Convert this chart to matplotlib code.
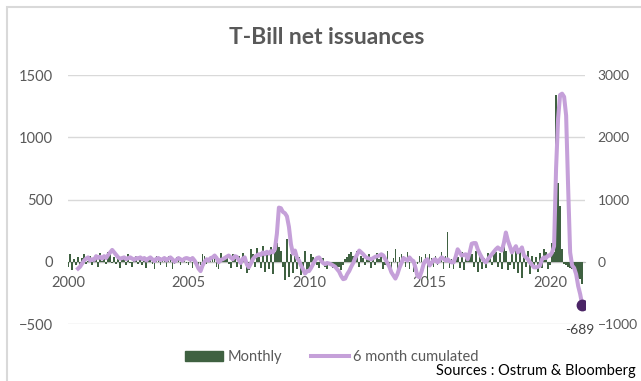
import matplotlib
matplotlib.use("Agg")
import matplotlib.pyplot as plt
import matplotlib.patches as mpatches
from matplotlib.lines import Line2D
import numpy as np

# Monthly net issuance (left axis), Jan 2000 - May 2021
monthly_by_year = [
    [-40, 60, -70, 20, -30, 40, -50, 30, 60, -20, 10, 50],      # 2000
    [-30, 40, 20, -40, 70, 10, 50, -20, 80, 60, -10, 40],       # 2001
    [-20, 30, -50, 40, 20, -30, 60, -10, -40, 30, 50, -20],     # 2002
    [40, -30, 20, -50, 30, 40, -20, -60, 50, 20, -30, 30],      # 2003
    [20, -40, 50, 30, -60, -20, 40, 30, -30, 20, 40, -10],      # 2004
    [-30, 40, -50, -20, -40, -70, -30, 60, 50, -20, 30, 40],    # 2005
    [30, 50, -40, -60, 70, 20, 40, 30, -20, -50, 60, 50],       # 2006
    [-40, 50, -60, 70, 30, -90, -70, 100, 60, -40, 110, 40],    # 2007
    [-50, 130, -80, 90, -60, 120, -100, 80, 150, 120, 90, -40], # 2008
    [-150, 180, -120, 60, -90, 50, -60, 40, -110, -80, 90, -70],# 2009
    [-60, 60, 40, 20, -30, -50, 10, 30, -40, -60, -20, -30],    # 2010
    [-50, -30, -60, -40, -70, -30, 20, 40, 60, 80, 50, 30],     # 2011
    [90, -40, 50, 30, -30, 20, 60, -50, 40, -30, 70, 20],       # 2012
    [40, -60, -30, 90, -80, -70, 30, 100, -120, 40, 60, 50],    # 2013
    [-40, 80, -60, 30, -80, -110, -20, 50, 40, -20, 60, -150],  # 2014
    [60, 30, -40, 50, -30, 40, 80, -60, 50, 235, -50, 20],      # 2015
    [-60, 70, 40, -50, 80, -70, 50, 30, 110, 60, -40, 90],      # 2016
    [-80, 50, -60, 30, -50, 70, 40, -30, 60, 80, -40, 70],      # 2017
    [-60, 130, 90, -70, -30, 60, -60, 100, -90, 110, -130, 40], # 2018
    [-40, 90, -100, 50, -60, 40, -80, 70, -50, 100, 80, -60],   # 2019
    [-30, 150, 80, 1340, 630, 450, 100, -20, -30, -40, -50, -60],  # 2020
    [-70, -110, -130, -140, -180],                              # 2021
]

# 6 month cumulated (right axis)
cumulated_by_year = [
    [np.nan] * 5 + [-110, -80, -30, 20, 50, 70, 20],
    [40, 30, 90, 60, 80, 50, 90, 60, 110, 150, 190, 150],
    [110, 70, 50, 60, 70, 40, 60, 70, 50, 30, 60, 50],
    [70, 40, 60, 20, 50, 70, 40, 10, 50, 60, 30, 40],
    [60, 20, 50, 70, 40, 0, 30, 60, 40, 20, 50, 60],
    [50, 30, 60, 20, -40, -110, -150, -60, 0, 40, 20, 60],
    [70, 100, 60, -10, 30, 40, 60, 80, 100, 70, 40, 90],
    [80, 30, -20, 50, 70, -40, -90, -30, 40, 80, 100, 120],
    [110, 150, 120, 160, 130, 170, 150, 200, 450, 870, 860, 800],
    [780, 730, 560, 280, 130, 180, 60, 20, -60, -120, -190, -150],
    [-150, -100, -40, 20, 60, 70, 20, -20, -40, -20, -30, -40],
    [-60, -80, -120, -160, -230, -280, -270, -200, -150, -80, -20, 60],
    [120, 180, 150, 120, 80, 60, 50, 40, 60, 80, 90, 100],
    [120, 100, 40, -20, -80, -170, -220, -270, -200, -100, -20, 60],
    [40, 20, 70, 30, 10, -100, -230, -250, -160, -40, 20, 40],
    [-60, -20, 30, 40, -10, 30, 70, 50, 20, 40, 10, -10],
    [-10, 80, 200, 150, 100, 110, 120, 40, 150, 290, 300, 300],
    [200, 130, 70, 20, -10, 40, 80, 120, 160, 200, 230, 200],
    [180, 300, 470, 340, 250, 150, 200, 250, 150, 180, 230, 100],
    [70, 40, -10, -50, -90, -90, -80, -60, 40, 70, 60, 100],
    [100, 150, 250, 1500, 2300, 2680, 2700, 2650, 2350, 1200, 150, -60],
    [-100, -200, -390, -520, -689],
]

monthly = np.concatenate([np.array(v, float) for v in monthly_by_year])
cumulated = np.concatenate([np.array(v, float) for v in cumulated_by_year])
months = 2000 + np.arange(len(monthly)) / 12.0

GREEN = "#3f6141"
PURPLE = "#c5a0d9"
DARK_PURPLE = "#4b2566"
GREY = "#595959"
GRID = "#d9d9d9"

plt.rcParams["font.family"] = ["Lato", "DejaVu Sans"]

fig = plt.figure(figsize=(6.41, 3.81), dpi=100)
ax = fig.add_axes([68 / 641, 1 - 324 / 381, (585 - 68) / 641, (324 - 75) / 381])
ax2 = ax.twinx()

ax.bar(months, monthly, width=0.85 / 12, color=GREEN, zorder=2)
ax2.plot(months, cumulated, color=PURPLE, lw=2.9, solid_joinstyle="round", zorder=3)
ax2.plot(months[-1], cumulated[-1], "o", color=DARK_PURPLE, ms=7.5, zorder=4)
ax2.annotate("-689", (months[-1], cumulated[-1]), xytext=(-2, -18),
             textcoords="offset points", ha="center", va="center",
             fontsize=10, color="#404040")

ax.set_xlim(2000, 2021.45)
ax.set_ylim(-500, 1500)
ax2.set_ylim(-1000, 3000)
ax.set_yticks([-500, 0, 500, 1000, 1500])
ax2.set_yticks([-1000, 0, 1000, 2000, 3000])
ax.set_xticks([2000, 2005, 2010, 2015, 2020])

ax.grid(axis="y", color=GRID, lw=1, zorder=0)
ax.set_axisbelow(True)
for a in (ax, ax2):
    for s in ("top", "left", "right", "bottom"):
        a.spines[s].set_visible(False)
ax.spines["bottom"].set_visible(True)
ax.spines["bottom"].set_position(("data", 0))
ax.spines["bottom"].set_color("#bfbfbf")
ax.spines["bottom"].set_zorder(1)

ax.tick_params(axis="y", length=0, pad=11, labelsize=10.5, labelcolor=GREY)
ax2.tick_params(axis="y", length=0, pad=9, labelsize=10, labelcolor=GREY)
ax.tick_params(axis="x", length=0, pad=10, labelsize=10.5, labelcolor=GREY)

fig.text(327 / 641, 1 - 38 / 381, "T-Bill net issuances", ha="center", va="center",
         fontsize=16.5, fontweight="bold", color=GREY)

handles = [mpatches.Patch(color=GREEN, label="Monthly"),
           Line2D([], [], color=PURPLE, lw=2.9, label="6 month cumulated")]
fig.legend(handles=handles, loc="center", bbox_to_anchor=(332 / 641, 1 - 357 / 381),
           ncol=2, frameon=False, fontsize=10.5, labelcolor=GREY,
           handlelength=2.6, handletextpad=0.3, columnspacing=2.0)

fig.text(636 / 641, 1 - 371 / 381, "Sources : Ostrum & Bloomberg", ha="right",
         va="center", fontsize=10.5, color="black")

fig.patches.append(mpatches.Rectangle((7 / 641, -0.1), 1.2, 1.1 - 7 / 381,
                                      transform=fig.transFigure, fill=False,
                                      ec=GRID, lw=1.5))

fig.savefig("out.png", dpi=100)
